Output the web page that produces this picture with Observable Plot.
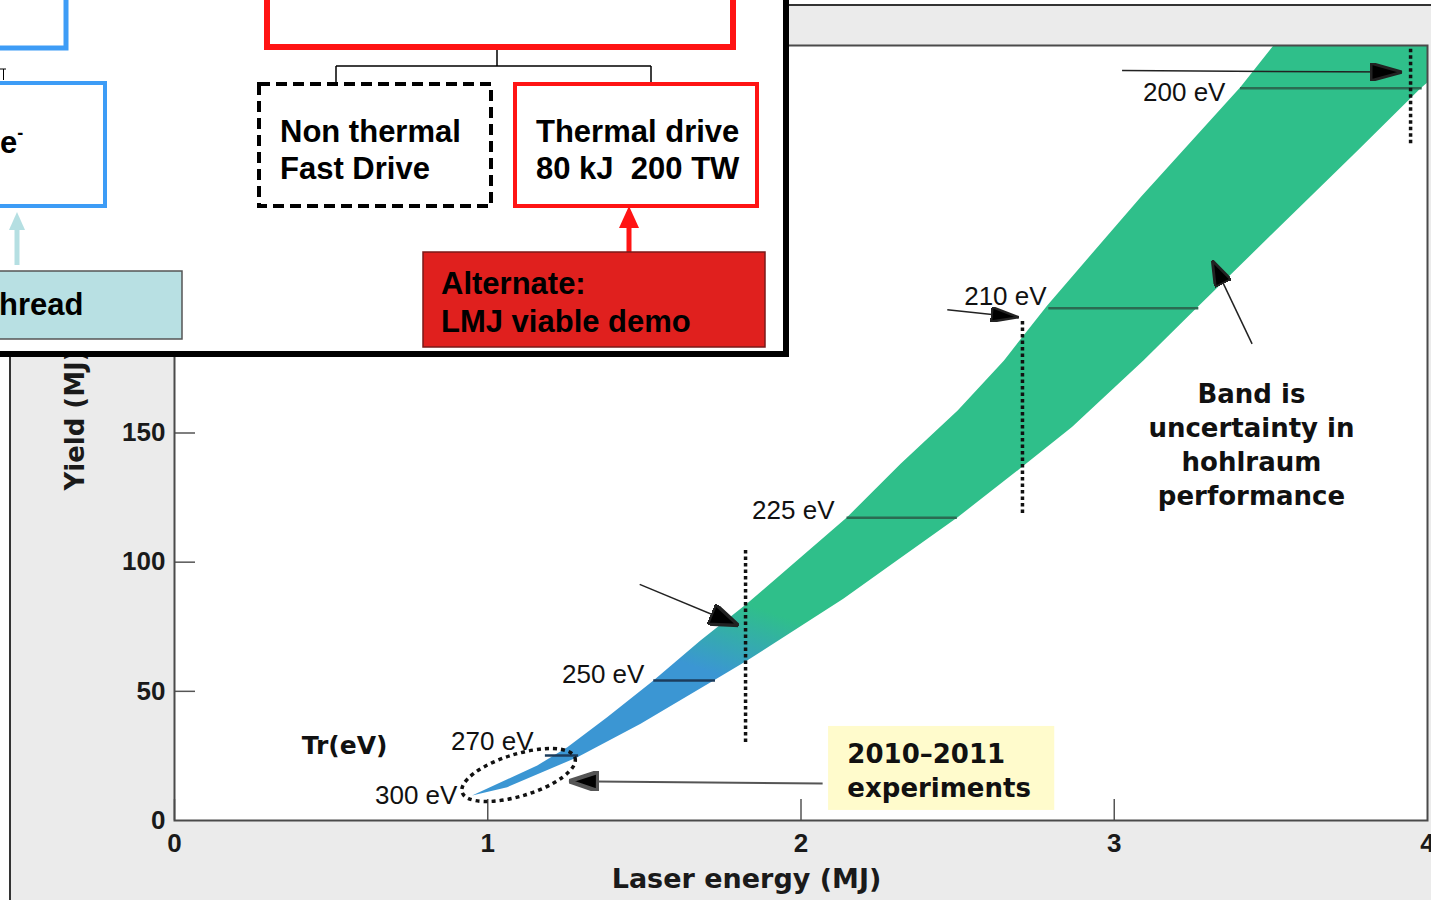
<!DOCTYPE html>
<html><head><meta charset="utf-8">
<script src="https://cdn.jsdelivr.net/npm/d3@7"></script>
<script src="https://cdn.jsdelivr.net/npm/@observablehq/plot@0.6"></script>
<style>
html,body{margin:0;padding:0;background:#fff;overflow:hidden;}
#wrap{position:relative;width:1431px;height:900px;overflow:hidden;}
#panel{position:absolute;left:9px;top:4px;width:1440px;height:910px;background:#ebebeb;border-left:2px solid #333;border-top:2px solid #333;}
#chart{position:absolute;left:0;top:0;}
#overlay{position:absolute;left:0;top:0;width:783px;height:351px;background:#fff;border-right:6px solid #000;border-bottom:6px solid #000;}
#overlay svg{position:absolute;left:0;top:0;}
</style></head>
<body>
<div id="wrap"><div id="panel"></div><div id="chart"></div>
<div id="overlay">
<svg width="783" height="351" font-family="Liberation Sans, Arial, sans-serif" font-weight="bold" font-size="31" fill="#000">
 <rect x="-20" y="-20" width="86" height="68" fill="none" stroke="#3d9cf6" stroke-width="5"/>
 <path d="M0,69 H6 M3.5,69 V80" fill="none" stroke="#000" stroke-width="1"/>
 <rect x="-20" y="83" width="125" height="123" fill="none" stroke="#3d9cf6" stroke-width="4"/>
 <text x="0" y="153">e<tspan font-size="18" dy="-14">-</tspan></text>
 <line x1="17" y1="265" x2="17" y2="226" stroke="#b5dfe2" stroke-width="5"/>
 <path d="M9,230 L17,212 L25,230Z" fill="#b5dfe2"/>
 <rect x="-2" y="271" width="184" height="68" fill="#b8e0e3" stroke="#555" stroke-width="1.5"/>
 <text x="-1" y="315">hread</text>
 <rect x="267" y="-20" width="466" height="67" fill="none" stroke="#ff1414" stroke-width="6"/>
 <path d="M497,50 V66 M336,66 H651 M336,66 V82 M651,66 V82" fill="none" stroke="#000" stroke-width="1.5"/>
 <rect x="259" y="84" width="232" height="122" fill="none" stroke="#000" stroke-width="4" stroke-dasharray="11,6"/>
 <text x="280" y="142">Non thermal</text><text x="280" y="179">Fast Drive</text>
 <rect x="515" y="84" width="242" height="122" fill="none" stroke="#ff1414" stroke-width="4"/>
 <text x="536" y="142">Thermal drive</text><text x="536" y="179" style="white-space:pre">80 kJ  200 TW</text>
 <line x1="629" y1="254" x2="629" y2="224" stroke="#ff1414" stroke-width="5"/>
 <path d="M619,228 L629,206 L639,228Z" fill="#ff1414"/>
 <rect x="423" y="252" width="342" height="95" fill="#e0201e" stroke="#7a1a1a" stroke-width="1.5"/>
 <text x="441" y="294">Alternate:</text><text x="441" y="332">LMJ viable demo</text>
</svg>
</div>
</div>
<script>
// ---- band edges (Laser energy MJ, Yield MJ) ----
const upperEdgeX = [0.950, 1.158, 1.254, 1.381, 1.529, 1.679, 1.827, 2.147, 2.318, 2.500, 2.648, 2.786, 3.084, 3.403, 3.508];
const upperEdgeY = [9.7, 21.3, 28.4, 40.0, 54.2, 69.7, 83.9, 117.4, 138.1, 158.7, 178.1, 199.4, 241.3, 283.9, 300];
const lowerEdgeX = [0.950, 1.062, 1.286, 1.488, 1.721, 1.828, 2.135, 2.306, 2.500, 2.705, 2.865, 3.093, 3.265, 3.777, 3.977, 4.0, 4.0];
const lowerEdgeY = [9.7, 12.9, 24.5, 37.5, 54.2, 61.9, 85.8, 100.6, 117.4, 136.8, 152.3, 178.1, 198.7, 259.4, 283.4, 285.7, 300];

// ---- Tr labels ----
const evLabels = ["300 eV", "270 eV", "250 eV", "225 eV", "210 eV", "200 eV"];
const evLabelX = [0.903, 1.146, 1.500, 2.107, 2.784, 3.355];
const evLabelY = [9.7, 30.6, 56.5, 120.0, 202.8, 281.8];

// ---- Tr iso-lines across the band ----
const evLineX1 = [1.184, 1.530, 2.147, 2.791, 3.403];
const evLineX2 = [1.290, 1.727, 2.499, 3.270, 3.983];
const evLineY = [25.2, 54.2, 117.2, 198.3, 283.5];

// ---- dotted verticals ----
const dotX = [1.823, 2.707, 3.946];
const dotY1 = [30.2, 118.8, 262];
const dotY2 = [105.3, 193.5, 300];

// ---- arrows ----
const arrowX1 = [1.485, 2.467, 3.025, 3.440, 2.069];
const arrowY1 = [91.4, 197.7, 290.3, 184.5, 14.3];
const arrowX2 = [1.801, 2.695, 3.919, 3.313, 1.259];
const arrowY2 = [75.5, 194.8, 289.7, 216.8, 15.2];

// ---- annotation boxes / notes ----
const expBox = [2.088, 2.810, 3.9, 36.4];
const expText = "2010–2011\nexperiments";
const expTextPos = [2.148, 19.75];
const bandNote = "Band is\nuncertainty in\nhohlraum\nperformance";
const bandNotePos = [3.438, 146];
const trTitle = "Tr(eV)";
const trTitlePos = [0.543, 29.0];
const ellipseCenter = [1.10, 17.4];
const gradFrom = [1.72, 57];
const gradTo = [1.80, 85];

// ---- axes ----
const xTicks = [0, 1, 2, 3, 4];
const yTicks = [0, 50, 100, 150, 200, 250];
const xInnerTicks = [0, 1, 2, 3];
const yInnerTicks = [50, 100, 150, 200, 250];
const xTitle = "Laser energy (MJ)";
const yTitle = "Yield (MJ)";

// band outline: upper edge forward, lower edge backward
const bandOutline = [
  ...upperEdgeX.map((x, i) => ({x, y: upperEdgeY[i]})),
  ...lowerEdgeX.map((x, i) => ({x, y: lowerEdgeY[i]})).reverse()
];
const evLines = evLineY.map((y, i) => ({x1: evLineX1[i], x2: evLineX2[i], y}));
const dots = dotX.map((x, i) => ({x, y1: dotY1[i], y2: dotY2[i]}));
const arrows = arrowX1.map((x, i) => ({x1: x, y1: arrowY1[i], x2: arrowX2[i], y2: arrowY2[i]}));
const labels = evLabels.map((t, i) => ({t, x: evLabelX[i], y: evLabelY[i]}));

function head(w, h) {
  return function () {
    const m = d3.create("svg:marker")
      .attr("viewBox", "0 -5 10 10").attr("refX", 10).attr("refY", 0)
      .attr("markerWidth", w).attr("markerHeight", h)
      .attr("markerUnits", "userSpaceOnUse").attr("orient", "auto")
      .attr("preserveAspectRatio", "none");
    m.append("path").attr("d", "M0,-5L10,0L0,5Z").attr("fill", "#000");
    return m.node();
  };
}
const headSizes = [[30, 22], [28, 15], [32, 18], [26, 18], [30, 20]];

function gradientDefs(index, scales) {
  const defs = d3.create("svg:defs");
  const g = defs.append("linearGradient").attr("id", "bandGrad").attr("gradientUnits", "userSpaceOnUse")
    .attr("x1", scales.x(gradFrom[0])).attr("y1", scales.y(gradFrom[1]))
    .attr("x2", scales.x(gradTo[0])).attr("y2", scales.y(gradTo[1]));
  g.append("stop").attr("offset", 0).attr("stop-color", "#3b96d3");
  g.append("stop").attr("offset", 1).attr("stop-color", "#2fbf8a");
  return defs.node();
}
function ellipseMark(index, scales) {
  const cx = scales.x(ellipseCenter[0]), cy = scales.y(ellipseCenter[1]);
  return d3.create("svg:ellipse").attr("cx", cx).attr("cy", cy).attr("rx", 59).attr("ry", 21)
    .attr("transform", `rotate(-17 ${cx} ${cy})`).attr("fill", "none").attr("stroke", "#111")
    .attr("stroke-width", 3.5).attr("stroke-dasharray", "4,4").node();
}

const sans = "Liberation Sans, Arial, sans-serif";
const wide = "DejaVu Sans, Verdana, sans-serif";

const arrowMarks = arrows.map((a, i) => Plot.link([a], {
  x1: "x1", y1: "y1", x2: "x2", y2: "y2",
  stroke: i === 4 ? "#555" : "#222", strokeWidth: i === 4 ? 2 : 1.5,
  markerEnd: head(headSizes[i][0], headSizes[i][1])
}));

const chart = Plot.plot({
  width: 1431, height: 900,
  marginLeft: 174, marginRight: 4, marginTop: 45, marginBottom: 80,
  x: {domain: [0, 4]},
  y: {domain: [0, 300]},
  style: {background: "transparent", overflow: "visible"},
  marks: [
    Plot.frame({fill: "white", stroke: "none"}),
    gradientDefs,
    Plot.line(bandOutline, {x: "x", y: "y", fill: "#2fbf8a", stroke: "none", curve: "linear", clip: true}),
    Plot.ruleY(evLines.slice(0, 2), {x1: "x1", x2: "x2", y: "y", stroke: "#1d3c5c", strokeWidth: 2.5}),
    Plot.ruleY(evLines.slice(2), {x1: "x1", x2: "x2", y: "y", stroke: "#2b6b52", strokeWidth: 2.5}),
    Plot.ruleX(dots, {x: "x", y1: "y1", y2: "y2", stroke: "#111", strokeWidth: 3.5, strokeDasharray: "3.5,3"}),
    Plot.rect([expBox], {x1: d => d[0], x2: d => d[1], y1: d => d[2], y2: d => d[3], fill: "#fffbcc"}),
    Plot.ruleY(yInnerTicks, {y: d => d, insetRight: 1232, stroke: "#555", strokeWidth: 1.5}),
    Plot.ruleX(xInnerTicks, {x: d => d, insetTop: 754, stroke: "#555", strokeWidth: 1.5}),
    Plot.axisY({ticks: yTicks, tickFormat: d => String(d), tickSize: 0, tickPadding: 9, label: null, fontSize: 26, fontWeight: "bold", fontFamily: sans, fill: "#1a1a1a"}),
    Plot.axisX({ticks: xTicks, tickFormat: d => String(d), tickSize: 0, tickPadding: 13, label: null, fontSize: 26, fontWeight: "bold", fontFamily: sans, fill: "#1a1a1a"}),
    Plot.text([xTitle], {x: 1.826, frameAnchor: "bottom", dy: 67, text: d => d, fontSize: 27, fontWeight: "bold", fontFamily: wide, fill: "#1a1a1a"}),
    Plot.text([yTitle], {y: 127.7, frameAnchor: "left", dx: -99, rotate: -90, textAnchor: "start", text: d => d, fontSize: 26, fontWeight: "bold", fontFamily: wide, fill: "#1a1a1a"}),
    Plot.text(labels, {x: "x", y: "y", text: "t", textAnchor: "end", fontSize: 26, fontFamily: sans, fill: "#111"}),
    Plot.text([trTitle], {x: trTitlePos[0], y: trTitlePos[1], text: d => d, fontSize: 25, fontWeight: "bold", fontFamily: wide, fill: "#111"}),
    Plot.text([expText], {x: expTextPos[0], y: expTextPos[1], text: d => d, textAnchor: "start", lineHeight: 1.3, fontSize: 26, fontWeight: "bold", fontFamily: wide, fill: "#111"}),
    Plot.text([bandNote], {x: bandNotePos[0], y: bandNotePos[1], text: d => d, lineHeight: 1.31, fontSize: 26, fontWeight: "bold", fontFamily: wide, fill: "#111"}),
    ...arrowMarks,
    ellipseMark,
    Plot.frame({stroke: "#4a4a4a", strokeWidth: 2})
  ]
});
d3.select(chart).selectAll('g[aria-label="line"]').attr("fill", "url(#bandGrad)");
d3.select(chart).selectAll('g[aria-label="line"] path').attr("fill", "url(#bandGrad)");
document.getElementById("chart").appendChild(chart);
</script>
</body></html>
